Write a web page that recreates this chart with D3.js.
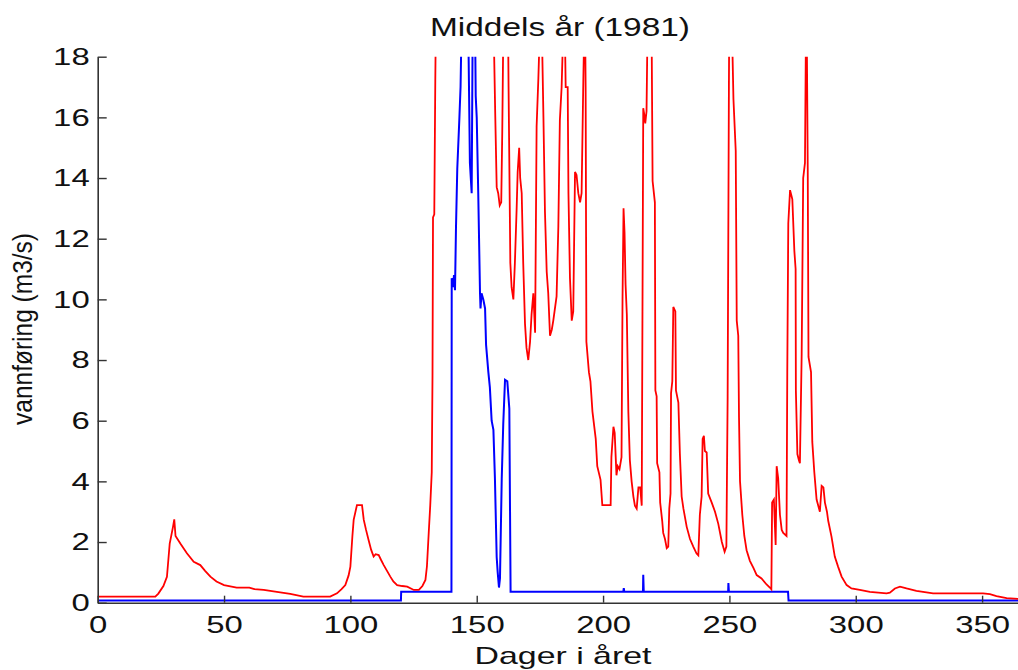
<!DOCTYPE html>
<html>
<head>
<meta charset="utf-8">
<script src="https://cdn.jsdelivr.net/npm/d3@7"></script>
<style>
  body { margin: 0; background: #fff; }
  svg { display: block; font-family: "Liberation Sans", Arial, sans-serif; }
</style>
</head>
<body>
<svg width="1018" height="670"></svg>
<script>
var title = "Middels år (1981)";
var xLabel = "Dager i året";
var yLabel = "vannføring (m3/s)";
var xTicks = [0, 50, 100, 150, 200, 250, 300, 350];
var yTicks = [0, 2, 4, 6, 8, 10, 12, 14, 16, 18];

// red: unregulated flow [day, m3/s] (values above 18 are off the chart)
var uregulert = [[0,0.2],[22.8,0.2],[24,0.3],[26,0.55],[27.4,0.85],[28.5,1.95],[29.8,2.5],[30.3,2.75],[30.8,2.2],
  [32.7,1.95],[35.3,1.63],[38,1.35],[40.6,1.24],[42.5,1.05],[44.6,0.86],[47,0.7],[50,0.58],[55,0.5],[60,0.5],
  [62,0.45],[65.7,0.42],[70.9,0.36],[76.2,0.29],[81.4,0.2],[92,0.2],[94.7,0.31],[96.5,0.45],[98,0.58],[99.3,0.9],
  [100,1.19],[100.8,2.2],[101.3,2.73],[102.6,3.22],[104.6,3.22],[105.3,2.73],[106.2,2.4],[107.2,2.07],[108.2,1.75],
  [109.2,1.52],[110,1.6],[111.2,1.57],[112.2,1.4],[113.2,1.24],[114.5,1.05],[115.8,0.86],[117,0.7],[118.5,0.58],
  [120.5,0.55],[122.5,0.53],[125.1,0.42],[127.1,0.42],[128.5,0.55],[129.7,0.75],[130.3,1.2],[131,2.3],[131.6,3.2],
  [132.2,4.3],[132.5,7.5],[132.7,12.7],[133.2,12.8],[133.6,17.2],[134.4,24],[136,30],[140,36],[145,40],[150,38],
  [154,32],[156.2,24],[156.8,18.5],[157.3,16.2],[157.9,13.7],[158.5,13.5],[159.1,13.1],[159.7,13.2],[160.1,15.5],
  [160.6,19.5],[161.5,25],[162.3,20],[162.6,17],[163.3,11.2],[163.8,10.4],[164.5,10.0],[165.1,11.2],[165.8,13.0],
  [166.2,14.2],[166.8,15.0],[167.2,14.0],[167.8,13.5],[168.4,11.2],[169.1,9.2],[169.7,8.4],[170.4,8.0],[171.1,8.6],
  [171.7,9.5],[172.4,10.2],[173.1,8.9],[173.7,15.7],[174.4,17.3],[175,19],[175.4,20],[175.8,18.8],[176.4,16.0],
  [177,12.9],[177.7,10.9],[178.3,10.2],[179,8.8],[179.7,9.0],[180.3,9.3],[181.6,10.1],[182.3,12.4],[182.9,15.9],
  [183.6,17.0],[184.1,18.5],[184.6,19.5],[185,18.2],[185.2,17.0],[186,17.0],[186.3,13.5],[186.9,10.7],[187.6,9.3],
  [188.2,9.6],[188.9,14.2],[189.5,14.1],[190.2,13.5],[190.9,13.2],[191.5,13.5],[192.2,17.3],[192.8,20],[193.1,17],
  [193.4,8.6],[194.4,7.6],[195,7.3],[195.8,6.3],[197.1,5.4],[197.7,4.5],[199,4.05],[199.7,3.22],[203,3.22],
  [203.3,4.8],[204.1,5.8],[204.6,5.6],[205,4.8],[205.3,4.2],[205.8,4.5],[206.5,4.4],[207.3,4.8],[207.7,10],
  [208.1,13.0],[208.5,12.2],[208.9,10.5],[209.4,9.5],[210,6.3],[210.6,4.7],[211.3,4.0],[212,3.5],[212.6,3.2],
  [213.3,3.1],[214,3.8],[214.7,3.8],[215.3,3.2],[215.9,16.3],[216.3,16.1],[216.7,15.8],[217.2,16.2],[217.6,19],
  [218.4,24],[219.2,19],[219.6,13.9],[220.5,13.2],[220.7,7.0],[221.2,6.8],[221.4,4.6],[222.3,4.3],[222.6,3.3],
  [223.4,2.7],[223.8,2.3],[224.5,2.1],[225.2,1.8],[225.8,1.85],[226.2,3.1],[226.7,3.6],[226.9,6.9],[227.4,7.3],
  [227.8,9.75],[228.6,9.6],[228.85,7.0],[229.8,6.6],[230.4,4.9],[231.1,3.5],[231.8,3.1],[233.1,2.5],[234.4,2.1],
  [235.7,1.85],[237,1.62],[237.7,1.56],[238.3,2.9],[239,3.5],[239.4,5.4],[239.9,5.5],[240.3,5.0],[241,4.95],
  [241.6,3.6],[243,3.3],[244.3,3.0],[245.6,2.6],[247,2.0],[248.1,1.68],[248.8,1.85],[249.3,6.8],[249.8,17],
  [250.3,25],[251,19],[251.6,16.6],[252.5,14.9],[252.9,9.3],[253.5,8.8],[253.8,6.1],[254.2,4.0],[255.1,2.9],
  [255.9,2.2],[256.8,1.73],[258.1,1.38],[259.5,1.15],[260.8,0.91],[262.7,0.8],[264.7,0.6],[266,0.5],[266.6,0.44],
  [266.9,3.3],[267.6,3.4],[268.3,1.9],[268.7,4.5],[269.3,4.1],[270,2.9],[270.7,2.4],[271.3,2.3],[272.6,2.2],
  [272.9,7.6],[273.3,12.5],[274,13.6],[274.6,13.4],[274.9,13.3],[275.7,11.6],[276.2,11.0],[276.3,7.0],[276.9,4.9],
  [277.5,4.7],[277.9,4.6],[278.6,8.2],[279.2,14.0],[279.9,14.5],[280.3,19],[280.6,19],[281,14.3],[281.3,8.1],
  [282.3,7.6],[282.8,5.3],[283.6,4.3],[284.5,3.4],[285.8,3.0],[286.5,3.85],[287.2,3.8],[287.8,3.3],[288.6,3.0],
  [289.1,2.7],[290.4,2.18],[291.7,1.52],[293,1.19],[294.4,0.86],[296.4,0.58],[298.3,0.47],[301.6,0.42],[305.6,0.36],
  [312.2,0.31],[313.5,0.33],[315.5,0.47],[317.5,0.53],[320.1,0.47],[324,0.39],[330.6,0.31],[350.4,0.31],
  [353.1,0.28],[355.7,0.22],[359.7,0.15],[365,0.12]];

// blue: regulated flow [day, m3/s]
var regulert = [[0,0.07],[120,0.07],[120.1,0.36],[140,0.36],[140.1,10.7],[140.6,10.4],[141,10.8],[141.4,10.3],
  [141.8,12.4],[142.3,14.3],[143.1,15.9],[143.6,17.0],[144.2,20],[145.5,24],[146.5,20],[147.3,14.5],[148,13.5],
  [148.4,19],[149,22],[149.6,16.7],[150,16.0],[150.6,13.5],[151.3,10.2],[151.5,9.7],[151.9,10.2],[152.6,10.0],
  [153.3,9.7],[153.7,8.5],[154.6,7.6],[155.2,7.1],[155.9,6.0],[156.6,5.7],[157.2,4.1],[157.9,1.5],[158.3,1.0],
  [158.8,0.5],[159.2,0.8],[159.9,4.1],[160.5,5.9],[161.2,7.35],[162.1,7.3],[162.9,6.4],[163.4,0.36],[208,0.36],
  [208.2,0.48],[208.4,0.36],[215.8,0.36],[215.9,0.92],[216.1,0.36],[249.5,0.36],[249.6,0.65],[249.8,0.36],
  [273.2,0.36],[273.4,0.07],[365,0.07]];

(function(){
  var svg = d3.select("svg");
  var left = 97.7, right = 1020, top = 56.7, bottom = 602.7;

  var x = d3.scaleLinear().domain([0, 365]).range([left, right]);
  var y = d3.scaleLinear().domain([0, 18]).range([bottom, top]);

  // stretch text horizontally like the original figure
  function stretch(sel, k){
    sel.each(function(){
      var w = this.getComputedTextLength();
      d3.select(this).attr("textLength", w * k).attr("lengthAdjust", "spacingAndGlyphs");
    });
  }

  svg.append("defs").append("clipPath").attr("id", "plot")
    .append("rect").attr("x", left).attr("y", top)
    .attr("width", right - left).attr("height", bottom - top);

  var line = d3.line()
    .x(function(d){ return x(d[0]); })
    .y(function(d){ return y(d[1]); });

  var plot = svg.append("g").attr("clip-path", "url(#plot)");
  plot.append("path").datum(regulert)
    .attr("d", line).attr("fill", "none")
    .attr("stroke", "#0000ff").attr("stroke-width", 2);
  plot.append("path").datum(uregulert)
    .attr("d", line).attr("fill", "none")
    .attr("stroke", "#ff0000").attr("stroke-width", 1.8);

  var gx = svg.append("g").attr("transform", "translate(0," + bottom + ")")
    .call(d3.axisBottom(x).tickValues(xTicks).tickSizeInner(-7).tickSizeOuter(0).tickPadding(13));
  var gy = svg.append("g").attr("transform", "translate(" + left + ",0)")
    .call(d3.axisLeft(y).tickValues(yTicks).tickSizeInner(-9).tickSizeOuter(0).tickPadding(8));

  [gx, gy].forEach(function(g){
    g.select(".domain").attr("stroke", "#333").attr("stroke-width", 1.6);
    g.selectAll(".tick line").attr("stroke", "#333").attr("stroke-width", 1.4);
    g.selectAll(".tick text").attr("font-size", 24).attr("fill", "#111")
      .attr("font-family", "Liberation Sans, Arial, sans-serif")
      .call(stretch, 1.37);
  });

  svg.append("text").attr("x", 560).attr("y", 36)
    .attr("text-anchor", "middle").attr("font-size", 26).attr("fill", "#111")
    .attr("textLength", 260).attr("lengthAdjust", "spacingAndGlyphs")
    .text(title);

  svg.append("text").attr("x", 563).attr("y", 664)
    .attr("text-anchor", "middle").attr("font-size", 24).attr("fill", "#111")
    .attr("textLength", 177).attr("lengthAdjust", "spacingAndGlyphs")
    .text(xLabel);

  svg.append("text")
    .attr("transform", "translate(32,329) rotate(-90) scale(1,1.25)")
    .attr("text-anchor", "middle").attr("font-size", 22).attr("fill", "#111")
    .attr("textLength", 192).attr("lengthAdjust", "spacingAndGlyphs")
    .text(yLabel);
})();
</script>
</body>
</html>
